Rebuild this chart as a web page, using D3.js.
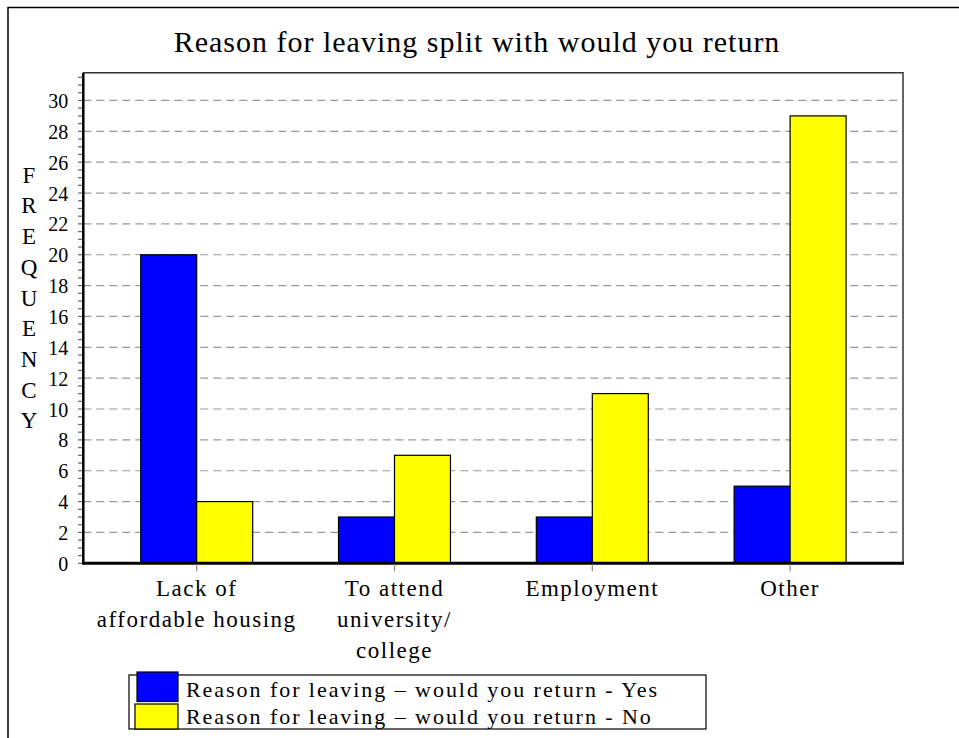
<!DOCTYPE html>
<html><head><meta charset="utf-8">
<script src="https://cdn.jsdelivr.net/npm/d3@7"></script>
<style>body{margin:0;background:#fff}svg{display:block}text{font-family:"Liberation Serif","Times New Roman",serif;fill:#000}</style>
</head><body>
<svg id="c" width="959" height="738"></svg>
<script>
const title = "Reason for leaving split with would you return";
const categories = ["Lack of affordable housing", "To attend university/ college", "Employment", "Other"];
const categoryLines = [["Lack of", "affordable housing"], ["To attend", "university/", "college"], ["Employment"], ["Other"]];
const seriesNames = ["Reason for leaving \u2013 would you return - Yes", "Reason for leaving \u2013 would you return - No"];
const yesValues = [20, 3, 3, 5];
const noValues = [4, 7, 11, 29];
const yTicks = [0, 2, 4, 6, 8, 10, 12, 14, 16, 18, 20, 22, 24, 26, 28, 30];
const yAxisLetters = ["F", "R", "E", "Q", "U", "E", "N", "C", "Y"];
const colors = ["#0000FF", "#FFFF00"];

const svg = d3.select("#c");
const plot = {left: 83.3, right: 903, top: 72.7, bottom: 563.3};

// outer border
svg.append("path").attr("d", "M8,738V7.5H959").attr("fill", "none").attr("stroke", "#000").attr("stroke-width", 1.5);

// title
svg.append("text").attr("x", 477).attr("y", 52).attr("text-anchor", "middle")
  .style("font-size", "30px").style("letter-spacing", "1px").text(title);

const y = d3.scaleLinear().domain([0, 31.8]).range([plot.bottom, plot.top]);
const x0 = d3.scaleBand().domain(categories).range([97.8, 889]).paddingInner(0.434).paddingOuter(0.217);
const x1 = d3.scaleBand().domain([0, 1]).range([0, x0.bandwidth()]);

// gridlines
svg.append("g").selectAll("line").data(yTicks.filter(d => d > 0)).join("line")
  .attr("x1", plot.left).attr("x2", plot.right)
  .attr("y1", d => y(d)).attr("y2", d => y(d))
  .attr("stroke", "#999").attr("stroke-width", 1.2).attr("stroke-dasharray", "8,5");

// plot top/right border
svg.append("path").attr("d", `M${plot.left},${plot.top}H${plot.right}V${plot.bottom}`)
  .attr("fill", "none").attr("stroke", "#333").attr("stroke-width", 1.5);

// bars
const series = [yesValues, noValues];
const g = svg.append("g");
series.forEach((vals, si) => {
  g.selectAll(null).data(vals).join("rect")
    .attr("x", (d, i) => x0(categories[i]) + x1(si))
    .attr("width", x1.bandwidth())
    .attr("y", d => y(d))
    .attr("height", d => y(0) - y(d))
    .attr("fill", colors[si]).attr("stroke", "#000").attr("stroke-width", 1.2);
});

// y axis minor ticks
const minor = d3.range(0, 31.6, 0.5);
svg.append("g").selectAll("line").data(minor).join("line")
  .attr("x1", 78).attr("x2", plot.left).attr("y1", d => y(d)).attr("y2", d => y(d))
  .attr("stroke", "#666").attr("stroke-width", 1.2);

// y axis via d3 for labels
const yAxis = d3.axisLeft(y).tickValues(yTicks).tickSize(0).tickPadding(15);
const ya = svg.append("g").attr("transform", `translate(${plot.left},0)`).call(yAxis);
ya.attr("font-family", null).attr("font-size", null);
ya.select(".domain").remove();
ya.selectAll("text").style("font-size", "20px").style("font-family", '"Liberation Serif",serif').attr("fill", "#000").attr("dy", "0.35em");

// axis lines
svg.append("line").attr("x1", plot.left).attr("x2", plot.left).attr("y1", plot.top).attr("y2", plot.bottom + 1)
  .attr("stroke", "#000").attr("stroke-width", 2.5);
svg.append("line").attr("x1", plot.left - 1).attr("x2", plot.right + 1).attr("y1", plot.bottom).attr("y2", plot.bottom)
  .attr("stroke", "#000").attr("stroke-width", 3);

// x ticks
svg.append("g").selectAll("line").data(categories).join("line")
  .attr("x1", d => x0(d) + x0.bandwidth() / 2).attr("x2", d => x0(d) + x0.bandwidth() / 2)
  .attr("y1", plot.bottom + 1).attr("y2", plot.bottom + 8).attr("stroke", "#888").attr("stroke-width", 1.2);

// x labels
categories.forEach((c, i) => {
  const cx = x0(c) + x0.bandwidth() / 2;
  categoryLines[i].forEach((line, j) => {
    svg.append("text").attr("x", cx).attr("y", 596 + j * 31).attr("text-anchor", "middle")
      .style("font-size", "23px").style("letter-spacing", "1.5px").text(line);
  });
});

// y axis vertical title
svg.append("g").selectAll("text").data(yAxisLetters).join("text")
  .attr("x", 29).attr("y", (d, i) => 182.7 + i * 30.7).attr("text-anchor", "middle")
  .style("font-size", "23px").text(d => d);

// legend
svg.append("rect").attr("x", 129).attr("y", 675).attr("width", 577).attr("height", 54)
  .attr("fill", "#fff").attr("stroke", "#000").attr("stroke-width", 1.2);
const swatches = [{x: 137, y: 672, w: 41, h: 29.5}, {x: 135, y: 704, w: 43, h: 25}];
seriesNames.forEach((name, i) => {
  svg.append("rect").attr("x", swatches[i].x).attr("y", swatches[i].y).attr("width", swatches[i].w).attr("height", swatches[i].h)
    .attr("fill", colors[i]).attr("stroke", "#000").attr("stroke-width", 1.2);
  svg.append("text").attr("x", 186).attr("y", 697 + i * 26.5)
    .style("font-size", "22px").style("letter-spacing", "1.95px").text(name);
});
</script>
</body></html>
